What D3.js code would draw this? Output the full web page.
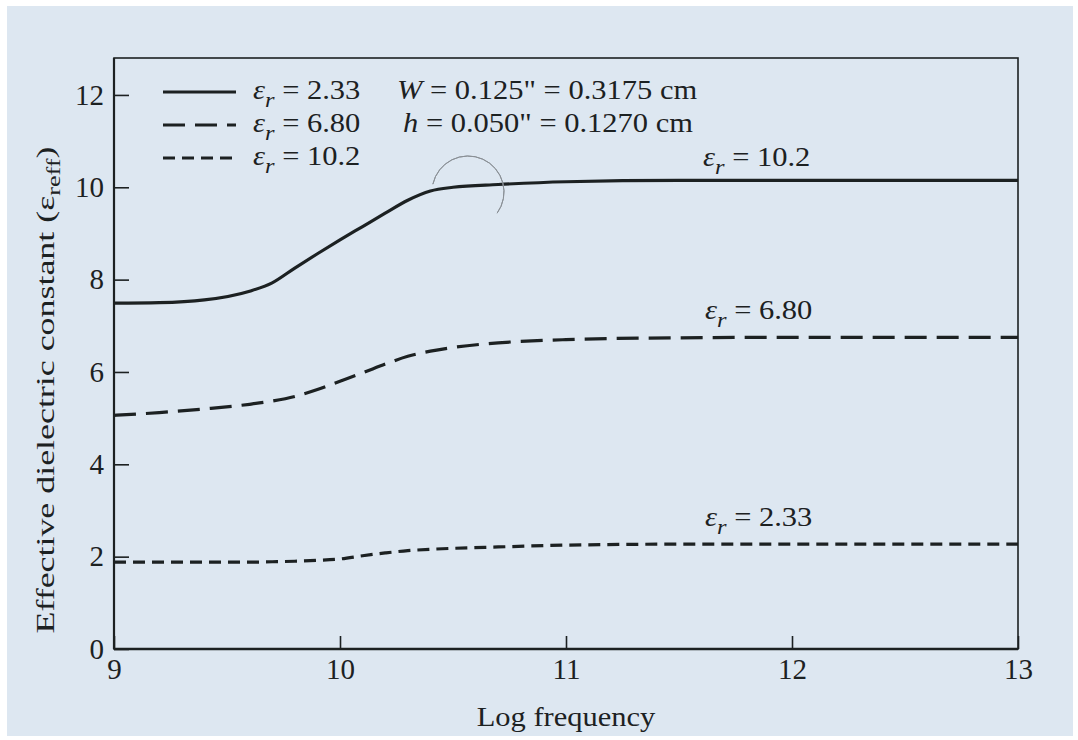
<!DOCTYPE html>
<html>
<head>
<meta charset="utf-8">
<script src="https://cdn.jsdelivr.net/npm/d3@7"></script>
<style>
  body { margin: 0; background: #ffffff; }
  text { font-family: "Liberation Serif", "Times New Roman", serif; fill: #1c2122; }
</style>
</head>
<body>
<div id="chart"></div>
<script>
// chart values
var logFreq = [9, 9.2, 9.4, 9.6, 9.7, 9.8, 9.9, 10, 10.1, 10.2, 10.3, 10.4, 10.5, 10.7, 11, 11.5, 12, 13];
var eps102 = [7.49, 7.5, 7.56, 7.75, 7.93, 8.25, 8.56, 8.86, 9.15, 9.44, 9.72, 9.92, 10.0, 10.06, 10.12, 10.15, 10.15, 10.15];
var eps680 = [5.06, 5.12, 5.2, 5.3, 5.37, 5.47, 5.62, 5.8, 5.98, 6.17, 6.34, 6.45, 6.53, 6.63, 6.7, 6.74, 6.75, 6.75];
var eps233 = [1.88, 1.88, 1.88, 1.88, 1.89, 1.9, 1.92, 1.95, 2.02, 2.08, 2.13, 2.16, 2.18, 2.21, 2.25, 2.27, 2.27, 2.27];
var xTicks = [9, 10, 11, 12, 13];
var yTicks = [0, 2, 4, 6, 8, 10, 12];
var legendVals = ["2.33", "6.80", "10.2"];

var svgWidth = 1078;
var svgHeight = 740;

var margin = { top: 58, right: 60, bottom: 91, left: 114 };
var width = svgWidth - margin.left - margin.right;
var height = svgHeight - margin.top - margin.bottom;

var ink = "#1c2122";
var fs = 27;       // text size
var stretch = 1.13; // the scan is a bit wide

var svg = d3.select("#chart")
    .append("svg")
    .attr("width", svgWidth)
    .attr("height", svgHeight);

// scanned paper background
svg.append("rect")
    .attr("x", 7).attr("y", 6)
    .attr("width", svgWidth - 12).attr("height", svgHeight - 10)
    .attr("fill", "#dde7f1");

var chartGroup = svg.append("g")
    .attr("transform", `translate(${margin.left}, ${margin.top})`);

var xScale = d3.scaleLinear().domain([9, 13]).range([0, width]);
var yScale = d3.scaleLinear().domain([0, 12.8]).range([height, 0]);

// axes with inward ticks
var bottomAxis = d3.axisBottom(xScale).tickValues(xTicks).tickFormat(d3.format("d"))
    .tickSizeInner(-13).tickSizeOuter(0).tickPadding(9);
var leftAxis = d3.axisLeft(yScale).tickValues(yTicks).tickFormat(d3.format("d"))
    .tickSizeInner(-15).tickSizeOuter(0).tickPadding(10);

var xAxis = chartGroup.append("g")
    .attr("transform", `translate(0, ${height})`)
    .call(bottomAxis);
var yAxis = chartGroup.append("g").call(leftAxis);

[xAxis, yAxis].forEach(function(ax) {
    ax.attr("font-family", null);
    ax.select(".domain").remove();
    ax.selectAll("line").attr("stroke", ink).attr("stroke-width", 1.6);
    ax.selectAll("text").attr("font-size", 29).attr("fill", ink);
});

// frame
chartGroup.append("rect")
    .attr("width", width).attr("height", height)
    .attr("fill", "none").attr("stroke", ink).attr("stroke-width", 1.6);
chartGroup.append("line")
    .attr("x1", 0).attr("x2", 0).attr("y1", 0).attr("y2", height)
    .attr("stroke", ink).attr("stroke-width", 2.2);
chartGroup.append("line")
    .attr("x1", 0).attr("x2", width).attr("y1", height).attr("y2", height)
    .attr("stroke", ink).attr("stroke-width", 2.4);

// curves
var series = [
    { vals: eps102, dash: null },
    { vals: eps680, dash: "22,10" },
    { vals: eps233, dash: "12,7" }
];

var line = d3.line()
    .x(d => xScale(d[0]))
    .y(d => yScale(d[1]))
    .curve(d3.curveMonotoneX);

series.forEach(function(s) {
    chartGroup.append("path")
        .datum(logFreq.map((x, i) => [x, s.vals[i]]))
        .attr("d", line)
        .attr("fill", "none")
        .attr("stroke", ink)
        .attr("stroke-width", 3.2)
        .attr("stroke-dasharray", s.dash);
});

// wide text helper
function wideText(x, y) {
    return svg.append("text")
        .attr("transform", `translate(${x}, ${y}) scale(${stretch}, 1)`)
        .attr("font-size", fs);
}

// epsilon_r label helper
function epsLabel(x, y, value) {
    var t = wideText(x, y);
    t.append("tspan").attr("font-style", "italic").text("\u03b5");
    t.append("tspan").attr("font-style", "italic").attr("font-size", fs * 0.8)
        .attr("dy", fs * 0.3).text("r");
    t.append("tspan").attr("dy", -fs * 0.3).text(" = " + value);
}

// legend
var legendDash = [null, "22,10", "12,7"];
legendVals.forEach(function(v, i) {
    var ly = 92 + i * 33;
    svg.append("line")
        .attr("x1", 163).attr("x2", 236).attr("y1", ly).attr("y2", ly)
        .attr("stroke", ink).attr("stroke-width", 3.2)
        .attr("stroke-dasharray", legendDash[i]);
    epsLabel(253, ly + 7, v);
});

var wText = wideText(397, 99);
wText.append("tspan").attr("font-style", "italic").text("W");
wText.append("tspan").text(" = 0.125\" = 0.3175 cm");
var hText = wideText(403, 132);
hText.append("tspan").attr("font-style", "italic").text("h");
hText.append("tspan").text(" = 0.050\" = 0.1270 cm");

// curve labels
epsLabel(703, 166, "10.2");
epsLabel(705, 319, "6.80");
epsLabel(705, 526, "2.33");

// axis titles
wideText(margin.left + width / 2, 726)
    .attr("text-anchor", "middle")
    .text("Log frequency");

var yTitle = svg.append("text")
    .attr("transform", "translate(54, 390) rotate(-90) scale(1.38, 1)")
    .attr("text-anchor", "middle").attr("font-size", 26);
yTitle.append("tspan").text("Effective dielectric constant (");
yTitle.append("tspan").text("\u03b5");
yTitle.append("tspan").attr("font-size", 19).attr("dy", 6).text("reff");
yTitle.append("tspan").attr("dy", -6).text(")");

// faint pencil circle on the figure
var arc = d3.arc().innerRadius(36).outerRadius(36)
    .startAngle(-0.43 * Math.PI).endAngle(0.7 * Math.PI);
svg.append("path")
    .attr("transform", "translate(468, 192)")
    .attr("d", arc)
    .attr("fill", "none").attr("stroke", "#8a9096").attr("stroke-width", 1);
</script>
</body>
</html>
